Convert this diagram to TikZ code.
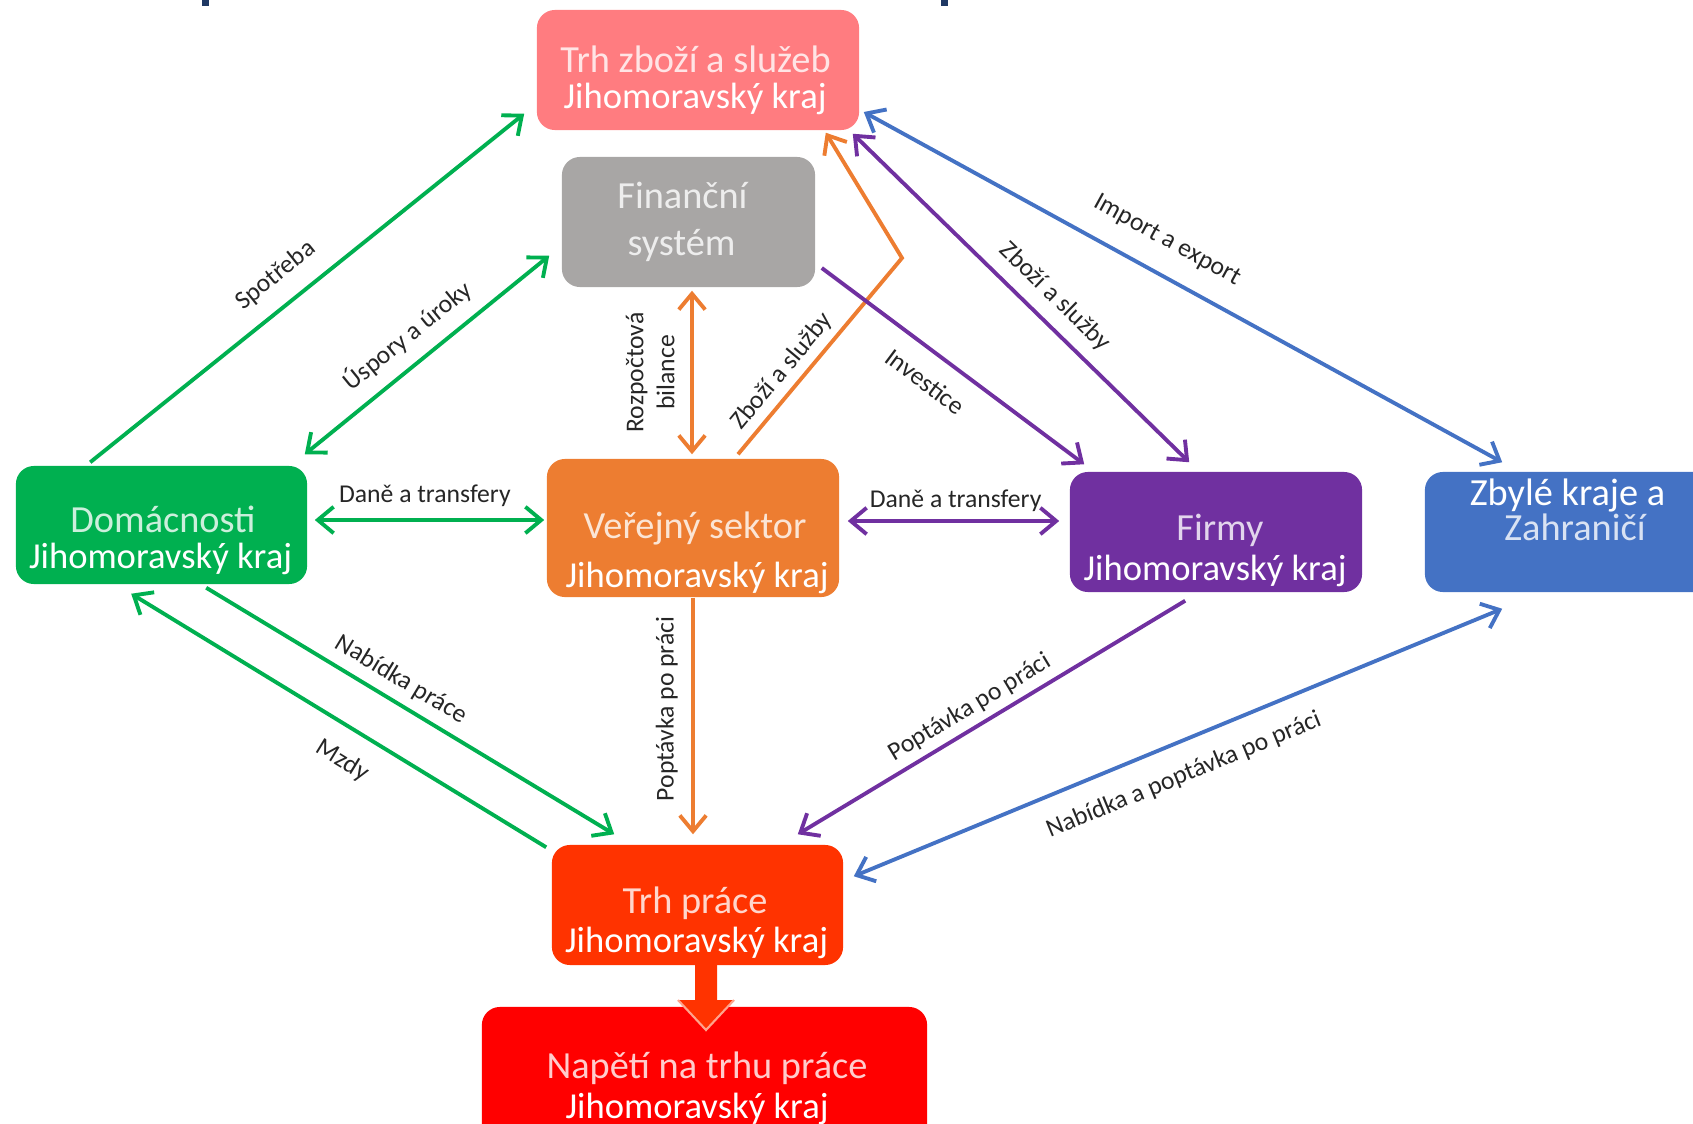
\documentclass[tikz,border=0pt]{standalone}
\usepackage{fontspec}
\setmainfont{Carlito}
\usetikzlibrary{arrows.meta}
\usetikzlibrary{calc}

\definecolor{ruzova}{HTML}{FF7C80}
\definecolor{seda}{HTML}{A8A6A5}
\definecolor{zelena}{HTML}{00B050}
\definecolor{oranzova}{HTML}{ED7D31}
\definecolor{fialova}{HTML}{7030A0}
\definecolor{modra}{HTML}{4472C4}
\definecolor{cervena}{HTML}{FF3300}
\definecolor{rudá}{HTML}{FF0000}
\definecolor{nadpis}{HTML}{1F3864}

\begin{document}
\begin{tikzpicture}[x=0.01cm, y=-0.01cm,
    >={Straight Barb[length=4.5pt,width=7.5pt]},
    box/.style={rectangle, rounded corners=0.18cm, inner sep=0pt},
    radek/.style={anchor=base, text=white, text opacity=0.8, font=\fontsize{10.9}{12}\selectfont},
    kraj/.style={anchor=base, text=white, font=\fontsize{10.4}{12}\selectfont},
    popis/.style={font=\fontsize{7.3}{8.8}\selectfont, text=black!85, inner sep=2pt},
    tok/.style={line width=1.1pt}]
  \useasboundingbox (0,0) rectangle (1693,1124);
  \clip (0,0) rectangle (1693,1124);

  % zbytky nadpisu
  \fill[nadpis] (202,0) rectangle (209,6);
  \fill[nadpis] (941,0) rectangle (948,6);

  % Uzly
  \node[box, fill=ruzova, minimum width=3.22cm, minimum height=1.2cm] (trh) at (698,70) {};
  \node[radek] (trh1) at (695.5,72) {Trh zboží a služeb};
  \node[kraj] (trh2) at (695,108) {Jihomoravský kraj};

  \node[box, fill=seda, minimum width=2.53cm, minimum height=1.3cm] (fin) at (688.5,222) {};
  \node[radek] (fin1) at (682.5,208) {Finanční};
  \node[radek] (fin2) at (681.5,255) {systém};

  \node[box, fill=zelena, minimum width=2.91cm, minimum height=1.18cm] (dom) at (161.5,525) {};
  \node[radek] (dom1) at (163,532) {Domácnosti};
  \node[kraj] (dom2) at (160.5,568) {Jihomoravský kraj};

  \node[box, fill=oranzova, minimum width=2.92cm, minimum height=1.38cm] (ver) at (693,528) {};
  \node[radek] (ver1) at (695,538) {Veřejný sektor};
  \node[kraj] (ver2) at (697,587) {Jihomoravský kraj};

  \node[box, fill=fialova, minimum width=2.92cm, minimum height=1.2cm] (firmy) at (1216,532) {};
  \node[radek] (firmy1) at (1220,540) {Firmy};
  \node[kraj] (firmy2) at (1215,580) {Jihomoravský kraj};

  \node[box, fill=modra, minimum width=2.95cm, minimum height=1.2cm] (zbyle) at (1572.5,532) {};
  \node[kraj, font=\fontsize{10.9}{12}\selectfont] (zbyle1) at (1567.5,505) {Zbylé kraje a};
  \node[radek] (zbyle2) at (1575,540) {Zahraničí};

  \node[box, fill=cervena, minimum width=2.91cm, minimum height=1.2cm] (prace) at (697.5,905) {};
  \node[radek] (prace1) at (695,913) {Trh práce};
  \node[kraj] (prace2) at (696.5,952) {Jihomoravský kraj};

  \node[box, fill=rudá, minimum width=4.45cm, minimum height=1.4cm] (napeti) at (704.5,1077) {};
  \node[radek] (napeti1) at (707,1078) {Napětí na trhu práce};
  \node[kraj] (napeti2) at (697,1118) {Jihomoravský kraj};

  % blokova sipka
  \fill[cervena] (695,963) -- (717,963) -- (717,1000) -- (734,1000) -- (706,1030) -- (678,1000) -- (695,1000) -- cycle;
  \draw[white!55!cervena, line width=0.6pt] (734,1000) -- (706,1030) -- (678,1000);

  % Šipky
  \coordinate (zlom) at (902,258);
  \draw[tok, zelena, ->] ($(dom.north west)+(75,-3)$) -- node[popis, sloped, above, pos=0.47, inner sep=4.7pt] {Spotřeba} ($(trh.south west)+(-12,-17)$);
  \draw[tok, zelena, <->] ($(dom.north east)+(-3,-11)$) -- node[popis, sloped, above, pos=0.49, inner sep=3.7pt] {Úspory a úroky} ($(fin.south west)+(-12,-32)$);
  \draw[tok, zelena, <->] ($(dom.east)+(7,-5)$) -- node[popis, above, pos=0.48, inner sep=3.3pt] {Daně a transfery} ($(ver.west)+(-2,-8)$);
  \draw[tok, oranzova, <->] ($(ver.north)+(-1,-4)$) -- node[popis, rotate=90, anchor=south, align=center, inner sep=4.4pt] {Rozpočtová\\bilance} ($(fin.south)+(3.5,3)$);
  \draw[tok, oranzova, ->] ($(ver.north)+(45,-4)$) -- node[popis, sloped, above, pos=0.36, inner sep=1.8pt] {Zboží a služby} (zlom) -- ($(trh.south east)+(-34,2)$);
  \draw[tok, fialova, ->] ($(fin.east)+(6,46)$) -- node[popis, sloped, below, pos=0.46, inner sep=5.1pt] {Investice} ($(firmy.north west)+(15,-7)$);
  \draw[tok, fialova, <->] ($(trh.south east)+(-7,3)$) -- node[popis, sloped, above, pos=0.55, inner sep=3.3pt] {Zboží a služby} ($(firmy.north west)+(120,-9)$);
  \draw[tok, modra, <->] ($(trh.east)+(4,42)$) -- node[popis, sloped, above, pos=0.45, inner sep=5.9pt] {Import a export} ($(zbyle.north west)+(78,-9)$);
  \draw[tok, fialova, <->] ($(ver.east)+(8,-7)$) -- node[popis, above, pos=0.51, inner sep=2.2pt] {Daně a transfery} ($(firmy.west)+(-10,-11)$);
  \draw[tok, zelena, ->] ($(dom.south west)+(191,3)$) -- node[popis, sloped, above, pos=0.45, inner sep=2.6pt] {Nabídka práce} ($(prace.north west)+(63,-10)$);
  \draw[tok, zelena, ->] ($(prace.north west)+(-5,3)$) -- node[popis, sloped, below, pos=0.45, inner sep=5.5pt] {Mzdy} ($(dom.south west)+(116,9)$);
  \draw[tok, oranzova, ->] (ver.south) -- node[popis, rotate=90, anchor=south, pos=0.47, inner sep=3.8pt] {Poptávka po práci} ($(prace.north)+(-4.5,-10)$);
  \draw[tok, fialova, ->] ($(firmy.south west)+(116,8)$) -- node[popis, sloped, above, pos=0.53, inner sep=1.9pt] {Poptávka po práci} ($(prace.north east)+(-46,-10)$);
  \draw[tok, modra, <->] ($(zbyle.south west)+(78,16)$) -- node[popis, sloped, below, pos=0.51, inner sep=5.6pt] {Nabídka a poptávka po práci} ($(prace.north east)+(10,32)$);
\end{tikzpicture}
\end{document}
